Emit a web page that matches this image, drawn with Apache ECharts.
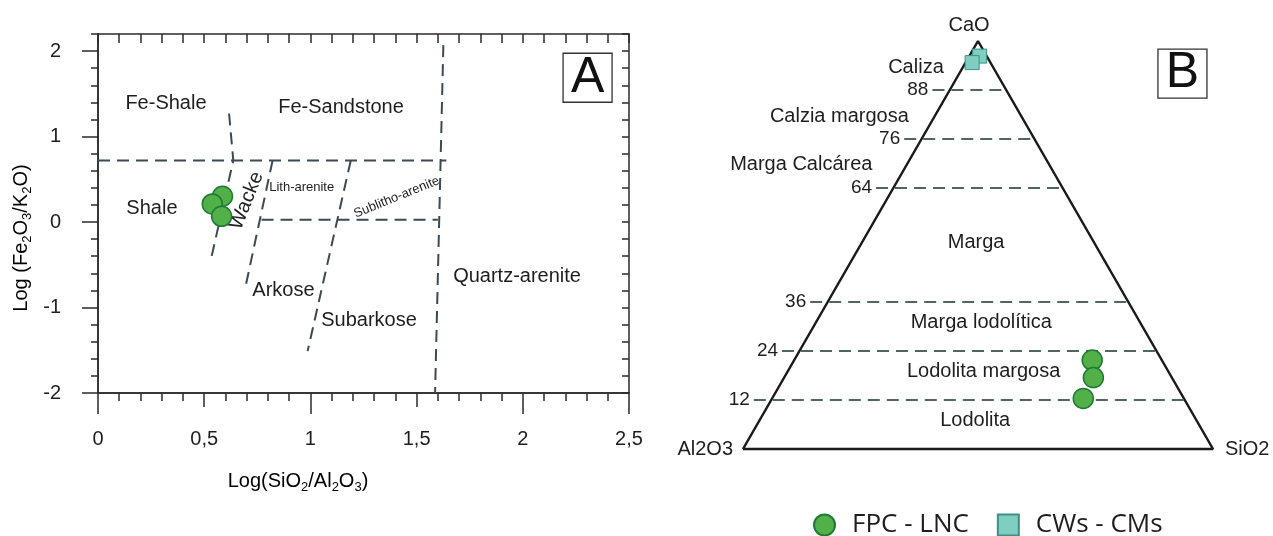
<!DOCTYPE html>
<html><head><meta charset="utf-8">
<script src="https://cdn.jsdelivr.net/npm/echarts@6/dist/echarts.min.js"></script>
<style>html,body{margin:0;padding:0;background:#fff}#c{width:1273px;height:536px}</style>
</head><body><div id="c"></div>
<script>
// ---------- Panel A (Herron diagram) ----------
const xTickValues = [0, 0.5, 1, 1.5, 2, 2.5];
const xTickLabels = ['0', '0,5', '1', '1,5', '2', '2,5'];
const yTickValues = [-2, -1, 0, 1, 2];
const yTickLabels = ['-2', '-1', '0', '1', '2'];
const fpcPanelA = [[0.586, 0.302], [0.538, 0.212], [0.582, 0.067]];
const boundaryShale = [[0.617, 1.27], [0.637, 0.72], [0.535, -0.40]];
const boundaryWacke = [[0.822, 0.72], [0.695, -0.75]];
const boundarySublitho = [[1.19, 0.72], [0.987, -1.51]];
const boundaryQuartz = [[1.626, 2.07], [1.587, -2]];
const boundaryFeTop = [[0, 0.72], [1.64, 0.72]];
const boundaryLithBase = [[0.77, 0.027], [1.60, 0.027]];
const regionNamesA = ['Fe-Shale', 'Fe-Sandstone', 'Shale', 'Wacke', 'Lith-arenite', 'Sublitho-arenite', 'Arkose', 'Subarkose', 'Quartz-arenite'];
const regionPosA = [[0.32, 1.39], [1.144, 1.34], [0.254, 0.153], [0.70, 0.25], [0.959, 0.40], [1.406, 0.29], [0.873, -0.80], [1.276, -1.147], [1.973, -0.635]];
const regionRotA = [0, 0, 0, 68, 0, 22, 0, 0, 0];
const regionSizeA = [20, 20, 20, 20, 13, 13, 20, 20, 20];
const panelATag = ['A', 2.305, 1.688];

// ---------- Panel B (ternary CaO - SiO2 - Al2O3) ----------
const ternaryLevels = [88, 76, 64, 36, 24, 12];
const ternaryLevelLabels = ['88', '76', '64', '36', '24', '12'];
const fpcCaO = [21.8, 17.5, 12.4];
const fpcSiO2 = [63.4, 65.8, 66.2];
const fpcAl2O3 = [14.8, 16.7, 21.4];
const cwCaO = [96.3, 94.7];
const cwSiO2 = [2.2, 1.4];
const cwAl2O3 = [1.5, 3.9];
const regionNamesB = ['Caliza', 'Calzia margosa', 'Marga Calcárea', 'Marga', 'Marga lodolítica', 'Lodolita margosa', 'Lodolita'];
const regionPosB = [[0.368, 0.935], [0.205, 0.815], [0.124, 0.697], [0.496, 0.505], [0.507, 0.309], [0.512, 0.191], [0.494, 0.071]];
const vertexNames = ['CaO', 'Al2O3', 'SiO2'];
const panelBTag = ['B', 0.935, 0.92];

const levelExt = 0.037;
function toXY(c, s, a) { const t = c + s + a; return [(s + c / 2) / t, c / t]; }

const dashA = { color: '#3b4a55', width: 2, type: [12, 7] };
const dashB = { color: '#4f675e', width: 2, type: [12, 7] };
const axisCol = '#2b2b2b';
const fontA = 'Liberation Sans, Arial, sans-serif';

function lineSeries(data, style, xi, yi) {
  return { type: 'line', xAxisIndex: xi, yAxisIndex: yi, data: data, symbol: 'none', silent: true,
    lineStyle: style, animation: false, clip: false, z: 2 };
}
function labelSeries(items, xi, yi) {
  return { type: 'scatter', xAxisIndex: xi, yAxisIndex: yi, symbolSize: 0, silent: true, clip: false,
    itemStyle: { color: 'rgba(0,0,0,0)', opacity: 1 }, animation: false, z: 5,
    label: { show: true, formatter: '{b}', color: '#1e1e1e', fontFamily: fontA, fontSize: 20, position: 'inside' },
    emphasis: { disabled: true },
    data: items };
}

const seriesList = [];
[boundaryShale, boundaryWacke, boundarySublitho, boundaryQuartz, boundaryFeTop, boundaryLithBase]
  .forEach(b => seriesList.push(lineSeries(b, dashA, 0, 0)));

seriesList.push({ name: 'FPC - LNC', type: 'scatter', xAxisIndex: 0, yAxisIndex: 0, data: fpcPanelA,
  symbol: 'circle', symbolSize: 20, z: 6, animation: false,
  itemStyle: { color: '#52b048', borderColor: '#1f7a33', borderWidth: 1.5, opacity: 1 } });

seriesList.push(labelSeries(regionNamesA.map((n, i) => ({ name: n, value: regionPosA[i],
  label: { rotate: regionRotA[i], fontSize: regionSizeA[i] } })), 0, 0));

seriesList.push(labelSeries([{ name: panelATag[0], value: [panelATag[1], panelATag[2]],
  label: { fontSize: 50, width: 49, height: 49, lineHeight: 54, align: 'center', verticalAlign: 'middle',
    borderColor: '#333', borderWidth: 1.3, color: '#111' } }], 0, 0));

// ternary frame
seriesList.push(lineSeries([toXY(0, 0, 100), toXY(0, 100, 0), toXY(100, 0, 0), toXY(0, 0, 100)],
  { color: '#1a1a1a', width: 2.5, type: 'solid' }, 3, 3));
ternaryLevels.forEach(c => {
  const l = toXY(c, 0, 100 - c), r = toXY(c, 100 - c, 0);
  seriesList.push(lineSeries([[l[0] - levelExt, l[1]], r], dashB, 3, 3));
});
seriesList.push(labelSeries(ternaryLevels.map((c, i) => ({ name: ternaryLevelLabels[i],
  value: [toXY(c, 0, 100 - c)[0] - levelExt, c / 100], label: { position: 'left', distance: 4, fontSize: 19 } })), 3, 3));
seriesList.push(labelSeries(regionNamesB.map((n, i) => ({ name: n, value: regionPosB[i] })), 3, 3));
seriesList.push(labelSeries([
  { name: vertexNames[0], value: [0.481, 1.039] },
  { name: vertexNames[1], value: toXY(0, 0, 100), label: { position: 'left', distance: 10 } },
  { name: vertexNames[2], value: toXY(0, 100, 0), label: { position: 'right', distance: 12 } }
], 3, 3));
seriesList.push(labelSeries([{ name: panelBTag[0], value: [panelBTag[1], panelBTag[2]],
  label: { fontSize: 50, width: 49, height: 49, lineHeight: 54, align: 'center', verticalAlign: 'middle',
    borderColor: '#333', borderWidth: 1.3, color: '#111' } }], 3, 3));

seriesList.push({ name: 'FPC - LNC', type: 'scatter', xAxisIndex: 3, yAxisIndex: 3,
  data: fpcCaO.map((c, i) => toXY(c, fpcSiO2[i], fpcAl2O3[i])),
  symbol: 'circle', symbolSize: 20, z: 6, animation: false, clip: false,
  itemStyle: { color: '#52b048', borderColor: '#1f7a33', borderWidth: 1.5, opacity: 1 } });
seriesList.push({ name: 'CWs - CMs', type: 'scatter', xAxisIndex: 3, yAxisIndex: 3,
  data: cwCaO.map((c, i) => toXY(c, cwSiO2[i], cwAl2O3[i])),
  symbol: 'rect', symbolSize: 14, z: 6, animation: false, clip: false,
  itemStyle: { color: '#7fcfc1', borderColor: '#3f8f86', borderWidth: 1, opacity: 1 } });

function tickFmt(values, labels) {
  return v => { const i = values.findIndex(t => Math.abs(t - v) < 1e-6); return i < 0 ? '' : labels[i]; };
}
const lineCfg = { show: true, onZero: false, lineStyle: { color: axisCol, width: 1.5 } };
const noLabel = { show: false };
const richSub = {
  n: { fontSize: 20, fontFamily: fontA, lineHeight: 26, color: '#1e1e1e', verticalAlign: 'middle' },
  s: { fontSize: 13, fontFamily: fontA, lineHeight: 12, color: '#1e1e1e', verticalAlign: 'bottom' }
};

const option = {
  animation: false,
  backgroundColor: '#fff',
  grid: [
    { left: 98, top: 34, width: 531, height: 359 },
    { left: 98, top: 34, width: 531, height: 359 },
    { left: 98, top: 34, width: 531, height: 359 },
    { left: 743, top: 41, width: 470, height: 408 }
  ],
  xAxis: [
    { gridIndex: 0, type: 'value', position: 'bottom', min: 0, max: 2.5, interval: 0.5,
      axisLine: lineCfg, splitLine: { show: false },
      axisTick: { show: true, length: 14, lineStyle: { color: axisCol, width: 1.5 } },
      minorTick: { show: true, splitNumber: 5, length: 8, lineStyle: { color: axisCol, width: 1.5 } },
      axisLabel: { fontSize: 20, color: '#1e1e1e', fontFamily: fontA, margin: 36, formatter: tickFmt(xTickValues, xTickLabels) } },
    { gridIndex: 1, type: 'value', position: 'bottom', min: 0, max: 2.5, interval: 1,
      axisLine: lineCfg, splitLine: { show: false },
      axisTick: { show: true, length: 21, lineStyle: { color: axisCol, width: 1.5 } }, axisLabel: noLabel },
    { gridIndex: 2, type: 'value', position: 'top', min: 0, max: 2.5, interval: 0.1,
      axisLine: lineCfg, splitLine: { show: false },
      axisTick: { show: true, inside: true, length: 9, lineStyle: { color: axisCol, width: 1.5 } }, axisLabel: noLabel },
    { gridIndex: 3, type: 'value', min: 0, max: 1, show: false }
  ],
  yAxis: [
    { gridIndex: 0, type: 'value', position: 'left', min: -2, max: 2.2, interval: 1,
      axisLine: lineCfg, splitLine: { show: false },
      axisTick: { show: true, length: 16, customValues: yTickValues, lineStyle: { color: axisCol, width: 1.5 } },
      axisLabel: { fontSize: 20, color: '#1e1e1e', fontFamily: fontA, margin: 37, customValues: yTickValues,
        formatter: tickFmt(yTickValues, yTickLabels) } },
    { gridIndex: 1, type: 'value', position: 'left', min: -2, max: 2.2, interval: 0.2,
      axisLine: lineCfg, splitLine: { show: false },
      axisTick: { show: true, length: 7, lineStyle: { color: axisCol, width: 1.5 } }, axisLabel: noLabel },
    { gridIndex: 2, type: 'value', position: 'right', min: -2, max: 2.2, interval: 0.2,
      axisLine: lineCfg, splitLine: { show: false },
      axisTick: { show: true, inside: true, length: 7, lineStyle: { color: axisCol, width: 1.5 } }, axisLabel: noLabel },
    { gridIndex: 3, type: 'value', min: 0, max: 1, show: false }
  ],
  legend: {
    data: ['FPC - LNC', 'CWs - CMs'], left: 808, top: 507, itemWidth: 21, itemHeight: 21, itemGap: 28,
    selectedMode: false, textStyle: { fontSize: 26, fontFamily: 'Open Sans', color: '#1e1e1e', padding: [0, 0, 0, 12] }
  },
  graphic: [
    { type: 'text', x: 21, y: 238, rotation: Math.PI / 2, silent: true,
      style: { text: '{n|Log (Fe}{s|2}{n|O}{s|3}{n|/K}{s|2}{n|O)}', align: 'center', verticalAlign: 'middle', rich: richSub } },
    { type: 'text', x: 298, y: 481, silent: true,
      style: { text: '{n|Log(SiO}{s|2}{n|/Al}{s|2}{n|O}{s|3}{n|)}', align: 'center', verticalAlign: 'middle', rich: richSub } }
  ],
  series: seriesList
};
const chart = echarts.init(document.getElementById('c'), null, { renderer: 'canvas' });
chart.setOption(option);
</script></body></html>
